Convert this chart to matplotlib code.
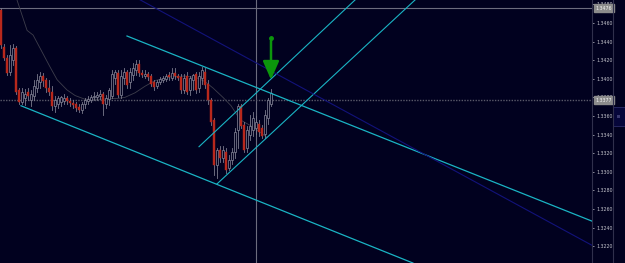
import numpy as np
import matplotlib.pyplot as plt
from matplotlib.patches import Rectangle

# candle data (one bar per index)
opens = [1.3474, 1.3434, 1.3422, 1.3407, 1.3420, 1.3433, 1.3388, 1.3375, 1.3379, 1.3386,
         1.3377, 1.3382, 1.3390, 1.3397, 1.3403, 1.3399, 1.3390, 1.3386, 1.3371, 1.3373,
         1.3375, 1.3376, 1.3379, 1.3376, 1.3374, 1.3373, 1.3370, 1.3366, 1.3373, 1.3376,
         1.3377, 1.3380, 1.3380, 1.3382, 1.3384, 1.3373, 1.3378, 1.3382, 1.3401, 1.3406,
         1.3383, 1.3401, 1.3407, 1.3397, 1.3404, 1.3409, 1.3416, 1.3406, 1.3403, 1.3405,
         1.3403, 1.3397, 1.3392, 1.3397, 1.3399, 1.3400, 1.3404, 1.3401, 1.3406, 1.3403,
         1.3402, 1.3388, 1.3403, 1.3388, 1.3399, 1.3405, 1.3390, 1.3401, 1.3407, 1.3394,
         1.3377, 1.3356, 1.3307, 1.3323, 1.3315, 1.3321, 1.3304, 1.3313, 1.3321, 1.3345,
         1.3371, 1.3350, 1.3326, 1.3340, 1.3345, 1.3347, 1.3351, 1.3347, 1.3341, 1.3358,
         1.3373]
highs = [1.3476, 1.3437, 1.3426, 1.3436, 1.3437, 1.3435, 1.3390, 1.3390, 1.3389, 1.3390,
         1.3388, 1.3399, 1.3405, 1.3407, 1.3406, 1.3401, 1.3399, 1.3392, 1.3382, 1.3382,
         1.3382, 1.3384, 1.3382, 1.3379, 1.3377, 1.3375, 1.3373, 1.3375, 1.3379, 1.3382,
         1.3383, 1.3386, 1.3386, 1.3388, 1.3386, 1.3383, 1.3390, 1.3409, 1.3409, 1.3409,
         1.3409, 1.3412, 1.3409, 1.3412, 1.3417, 1.3420, 1.3420, 1.3409, 1.3409, 1.3407,
         1.3405, 1.3399, 1.3399, 1.3402, 1.3403, 1.3405, 1.3407, 1.3412, 1.3412, 1.3405,
         1.3405, 1.3405, 1.3407, 1.3403, 1.3405, 1.3407, 1.3407, 1.3413, 1.3412, 1.3399,
         1.3379, 1.3358, 1.3326, 1.3328, 1.3328, 1.3326, 1.3318, 1.3326, 1.3347, 1.3373,
         1.3373, 1.3354, 1.3349, 1.3361, 1.3364, 1.3360, 1.3356, 1.3350, 1.3366, 1.3379,
         1.3389]
lows = [1.3433, 1.3420, 1.3404, 1.3404, 1.3415, 1.3384, 1.3373, 1.3373, 1.3372, 1.3377,
        1.3371, 1.3377, 1.3386, 1.3390, 1.3392, 1.3386, 1.3383, 1.3366, 1.3364, 1.3369,
        1.3371, 1.3373, 1.3373, 1.3371, 1.3369, 1.3365, 1.3364, 1.3363, 1.3369, 1.3373,
        1.3375, 1.3377, 1.3377, 1.3378, 1.3361, 1.3369, 1.3372, 1.3379, 1.3394, 1.3380,
        1.3379, 1.3394, 1.3390, 1.3390, 1.3399, 1.3404, 1.3403, 1.3402, 1.3401, 1.3399,
        1.3392, 1.3388, 1.3390, 1.3394, 1.3397, 1.3398, 1.3399, 1.3399, 1.3400, 1.3399,
        1.3385, 1.3385, 1.3384, 1.3383, 1.3388, 1.3385, 1.3386, 1.3394, 1.3390, 1.3373,
        1.3350, 1.3297, 1.3293, 1.3311, 1.3311, 1.3299, 1.3302, 1.3308, 1.3315, 1.3326,
        1.3347, 1.3321, 1.3321, 1.3334, 1.3339, 1.3341, 1.3339, 1.3336, 1.3336, 1.3351,
        1.3371]
closes = [1.3436, 1.3422, 1.3406, 1.3426, 1.3433, 1.3386, 1.3375, 1.3386, 1.3384, 1.3382,
          1.3384, 1.3392, 1.3399, 1.3403, 1.3398, 1.3390, 1.3386, 1.3371, 1.3377, 1.3379,
          1.3380, 1.3379, 1.3376, 1.3374, 1.3372, 1.3369, 1.3366, 1.3373, 1.3377, 1.3378,
          1.3380, 1.3382, 1.3383, 1.3384, 1.3373, 1.3379, 1.3388, 1.3405, 1.3407, 1.3383,
          1.3403, 1.3407, 1.3393, 1.3407, 1.3412, 1.3416, 1.3406, 1.3404, 1.3405, 1.3402,
          1.3394, 1.3391, 1.3397, 1.3400, 1.3401, 1.3403, 1.3402, 1.3406, 1.3403, 1.3401,
          1.3388, 1.3401, 1.3386, 1.3401, 1.3404, 1.3388, 1.3403, 1.3409, 1.3393, 1.3377,
          1.3354, 1.3307, 1.3323, 1.3315, 1.3323, 1.3302, 1.3313, 1.3321, 1.3343, 1.3371,
          1.3349, 1.3323, 1.3345, 1.3349, 1.3358, 1.3354, 1.3343, 1.3339, 1.3361, 1.3377,
          1.3385]

# moving average
ma_x = [5.3, 8.7, 10.7, 16.3, 18.7, 22, 24.7, 28, 33.3, 39, 41.3, 44.7, 48, 51.3, 56.3,
        61.3, 65.3, 68, 70.7, 74, 76.7, 79.7, 83, 85.3, 88.7]
ma_y = [1.3485, 1.3452, 1.3447, 1.3413, 1.3399, 1.3388, 1.3382, 1.3378, 1.3378, 1.3379,
        1.3380, 1.3385, 1.3392, 1.3398, 1.3402, 1.3403, 1.3401, 1.3397, 1.3390, 1.3380,
        1.3371, 1.3356, 1.3350, 1.3345, 1.3337]

# trend lines (bar index, price)
upper_chan = [(42, 1.3446), (197, 1.3247)]
lower_chan = [(6.67, 1.3371), (137.3, 1.3202)]
rise_low = [(72, 1.3287), (138, 1.34847)]
rise_high = [(66, 1.3327), (118, 1.34847)]
navy_line = [(46.3, 1.3485), (197, 1.3221)]

top_price = 1.3476
last_price = 1.3377
cursor_bar = 85
arrow_bar = 90
arrow_from = 1.3444
arrow_to = 1.3396

yticks = [1.3220, 1.3240, 1.3260, 1.3280, 1.3300, 1.3320, 1.3340, 1.3360, 1.3380,
          1.3400, 1.3420, 1.3440, 1.3460, 1.3480]

bg = '#01011f'
cyan = '#1ab4c4'
grey = '#6c6c7e'

fig = plt.figure(figsize=(6.25, 2.63), dpi=100)
fig.patch.set_facecolor(bg)
ax = fig.add_axes([0, 0, 592 / 625, 1])
ax.set_facecolor(bg)

# candles
for i in range(len(opens)):
    o, h, l, c = opens[i], highs[i], lows[i], closes[i]
    ax.plot([i, i], [l, h], color='#7c7c8e', lw=0.6, zorder=3)
    lo, hi = min(o, c), max(o, c)
    if c < o:
        r = Rectangle((i - 0.32, lo), 0.64, max(hi - lo, 0.00005),
                      facecolor='#b8281c', edgecolor='#b8281c', lw=0.3, zorder=4)
    else:
        r = Rectangle((i - 0.32, lo), 0.64, max(hi - lo, 0.00005),
                      facecolor=bg, edgecolor='#8a8a9c', lw=0.5, zorder=4)
    ax.add_patch(r)

ax.plot(ma_x, ma_y, color='#3e3e4c', lw=0.6, zorder=2)

for line, col, lw in [(upper_chan, cyan, 0.9), (lower_chan, cyan, 0.9),
                      (rise_low, cyan, 0.8), (rise_high, cyan, 0.8),
                      (navy_line, '#12127a', 0.8)]:
    ax.plot([line[0][0], line[1][0]], [line[0][1], line[1][1]], color=col, lw=lw, zorder=5)

ax.axhline(top_price, color=grey, lw=0.8, zorder=1)
ax.axvline(cursor_bar, color=grey, lw=0.8, zorder=1)
ax.axhline(last_price, color='#5a5a6a', lw=1.0, ls=(0, (1, 1)), zorder=1)

# green arrow
ax.annotate('', xy=(arrow_bar, arrow_to), xytext=(arrow_bar, arrow_from),
            arrowprops=dict(arrowstyle='-|>,head_length=0.8,head_width=0.35',
                            color='#0c960c', lw=1.8, mutation_scale=14),
            zorder=6)
ax.plot(arrow_bar, arrow_from, 'o', color='#0c960c', ms=2.5, zorder=6)

ax.set_xlim(-1 / 3, 197)
ax.set_ylim(1.3202, 1.34847)
ax.set_xticks([])
ax.yaxis.tick_right()
ax.set_yticks(yticks)
ax.set_yticklabels(['%.4f' % t for t in yticks])
ax.tick_params(axis='y', colors='#c4c4cc', labelsize=3.4, length=1.5, width=0.5, pad=2)
for s in ['top', 'bottom', 'left']:
    ax.spines[s].set_visible(False)
ax.spines['right'].set_color('#30304c')
ax.spines['right'].set_linewidth(0.8)

# price boxes on the scale
for p in [top_price, last_price]:
    ax.text(1.0065, p, '%.4f' % p, transform=ax.get_yaxis_transform(), fontsize=3.4,
            color='#f4f4f4', va='center', ha='left', clip_on=False, zorder=10,
            bbox=dict(boxstyle='square,pad=0.35', facecolor='#8c8c8c', edgecolor='#8c8c8c'))

# scroll area on the right
fig.add_artist(plt.Line2D([613 / 625, 613 / 625], [0, 1], color='#30304c', lw=0.8))
fig.add_artist(Rectangle((613 / 625, 1 - 126 / 263), 12 / 625, 19 / 263,
                         facecolor='#06063a', edgecolor='#2c2c6a', lw=0.6))
fig.add_artist(Rectangle((617 / 625, 1 - 118 / 263), 3 / 625, 3 / 263,
                         facecolor='#3a3a70', edgecolor='none'))

plt.savefig('out.png', dpi=100, facecolor=bg)
